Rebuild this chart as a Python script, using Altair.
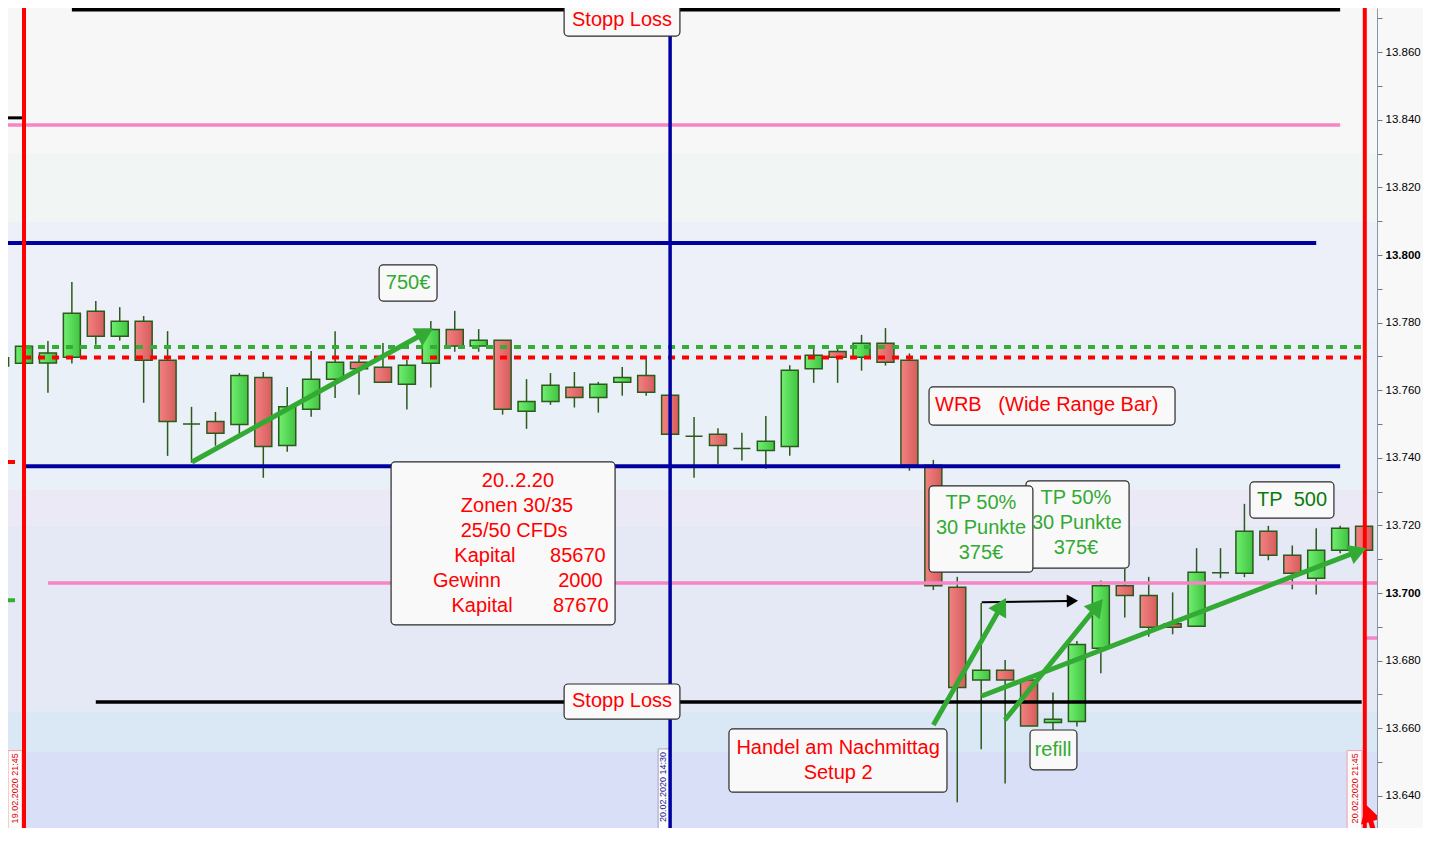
import math
import altair as alt
import pandas as pd

# ---------------- data ----------------
idx = list(range(58))
opens = [13769.6, 13768.0, 13768.1, 13769.8, 13783.4, 13776.0, 13780.4, 13768.9, 13750.0, 13750.8,
         13749.9, 13763.8, 13743.7, 13754.4, 13763.3, 13768.3, 13766.8, 13761.8, 13768.0, 13778.0,
         13773.1, 13774.8, 13753.8, 13756.7, 13760.9, 13757.9, 13762.4, 13764.4, 13758.5, 13746.4,
         13747.0, 13742.8, 13742.2, 13743.4, 13766.4, 13771.5, 13769.8, 13773.9, 13768.9, 13737.8,
         13701.7, 13674.3, 13677.2, 13674.3, 13661.7, 13662.0, 13683.7, 13702.2, 13699.3, 13690.9,
         13690.2, 13706.0, 13705.9, 13718.3, 13711.2, 13704.4, 13712.7, 13719.8]
highs = [13770.4, 13773.4, 13774.6, 13792.0, 13786.4, 13784.6, 13782.0, 13777.5, 13755.1, 13753.6,
         13765.1, 13765.4, 13761.0, 13771.6, 13777.5, 13770.4, 13774.0, 13769.0, 13780.5, 13783.5,
         13778.1, 13774.8, 13763.3, 13765.1, 13765.4, 13762.5, 13766.9, 13769.3, 13758.5, 13752.1,
         13748.8, 13747.4, 13752.4, 13767.4, 13772.2, 13772.2, 13776.4, 13778.4, 13770.9, 13739.4,
         13704.8, 13697.1, 13680.2, 13674.3, 13670.6, 13685.8, 13703.7, 13707.1, 13704.8, 13700.2,
         13713.3, 13713.3, 13726.4, 13719.9, 13714.1, 13719.2, 13719.9, 13719.8]
lows = [13764.2, 13767.8, 13759.3, 13767.9, 13773.5, 13774.7, 13756.3, 13740.6, 13738.6, 13743.6,
        13746.8, 13734.1, 13741.8, 13752.2, 13757.7, 13758.7, 13762.4, 13754.3, 13760.8, 13771.4,
        13771.4, 13752.8, 13748.6, 13755.7, 13754.9, 13753.4, 13758.4, 13758.4, 13747.0, 13734.1,
        13738.1, 13739.2, 13736.8, 13740.6, 13762.2, 13762.2, 13765.8, 13767.3, 13736.2, 13700.9,
        13638.1, 13653.8, 13643.7, 13660.7, 13659.0, 13660.5, 13676.3, 13692.8, 13687.1, 13687.8,
        13690.2, 13704.4, 13704.7, 13709.7, 13701.1, 13699.6, 13711.8, 13712.7]
closes = [13767.2, 13773.0, 13771.0, 13782.8, 13776.0, 13780.4, 13768.9, 13750.8, 13750.0, 13747.3,
          13764.4, 13743.4, 13755.1, 13763.3, 13768.3, 13766.4, 13762.4, 13767.4, 13778.0, 13773.1,
          13774.8, 13754.4, 13756.7, 13761.5, 13757.9, 13761.8, 13763.8, 13759.4, 13747.0, 13746.4,
          13743.7, 13742.8, 13744.9, 13765.9, 13770.4, 13769.8, 13773.9, 13768.3, 13737.8, 13702.2,
          13672.1, 13677.2, 13674.3, 13660.7, 13662.7, 13684.8, 13702.2, 13699.3, 13689.9, 13689.9,
          13706.2, 13706.0, 13718.3, 13711.2, 13705.9, 13712.7, 13719.2, 13712.7]

# background bands (price from, price to, colour)
band_lo = [13830.2, 13809.8, 13774.9, 13730.5, 13720.1, 13664.8, 13653.0, 13600.0]
band_hi = [13900.0, 13830.2, 13809.8, 13774.9, 13730.5, 13720.1, 13664.8, 13653.0]
band_col = ["#f7f7f7", "#f1f6f5", "#eef0f9", "#e9f0f8", "#ece9f6", "#e5e9f6", "#dae8f6", "#d9dff6"]

X_MIN, X_MAX = 0.331, 57.54
Y_MIN, Y_MAX = 13630.5, 13873.1
W, H = 1369, 820

# horizontal levels: x from, x to, price, colour, width
solid_x1 = [3.0, X_MIN, X_MIN, X_MIN, 1.0, 2.0, 57.04, 4.0, X_MIN]
solid_x2 = [56.0, 0.92, 56.0, 55.0, 56.0, X_MAX, X_MAX, 56.9, 0.42]
solid_y = [13872.6, 13840.6, 13838.5, 13803.6, 13737.5, 13703.0, 13686.7, 13667.8, 13634.9]
solid_c = ["#000000", "#000000", "#f585c5", "#0000a0", "#0000a0", "#f585c5", "#f585c5", "#000000", "#f585c5"]
solid_w = [3.5, 3, 3.5, 4, 4, 3.5, 3.5, 3.5, 3.5]

dash_x1 = [1.0, 1.0, X_MIN, X_MIN]
dash_x2 = [56.9, 56.9, 0.92, 0.92]
dash_y = [13772.8, 13769.7, 13738.8, 13697.9]
dash_c = ["#36ac36", "#ff0000", "#ff0000", "#36ac36"]

# vertical lines
vline_x = [1.0, 28.0, 57.03]
vline_c = ["#ff0000", "#0000a0", "#ff0000"]
vline_w = [4, 3.5, 4]

GREEN = "#33aa33"
# arrows: start x, start price, tip x, tip price, colour, width, head size
arr_x1 = [8.02, 39.0, 41.99, 41.02, 41.02, 57.55]
arr_y1 = [13738.8, 13661.0, 13662.45, 13669.55, 13697.3, 13626.0]
arr_x2 = [17.97, 41.97, 46.0, 56.97, 44.96, 57.11]
arr_y2 = [13777.8, 13697.7, 13697.5, 13712.95, 13697.7, 13636.5]
arr_c = [GREEN, GREEN, GREEN, GREEN, "#000000", "#ff0000"]
arr_w = [5, 5, 5, 5, 2, 5]
arr_s = [420, 420, 420, 420, 170, 420]

# annotation boxes
box_x1 = [23.57, 15.84, 16.34, 38.82, 42.87, 38.82, 52.23, 23.57, 30.46, 43.04]
box_x2 = [28.41, 18.26, 25.70, 49.10, 47.18, 43.16, 55.74, 28.41, 39.57, 45.00]
box_y1 = [13874.5, 13797.1, 13738.8, 13761.0, 13733.2, 13731.7, 13732.9, 13673.1, 13659.8, 13659.5]
box_y2 = [13864.8, 13786.4, 13690.6, 13749.7, 13707.4, 13706.2, 13722.2, 13662.7, 13641.1, 13647.7]

NB = "\u00a0"
RED = "#ff0000"
DKGREEN = "#0c7a0c"
# centred texts
ct_text = ["Stopp Loss", "750€", "20..2.20", "Zonen 30/35", "25/50 CFDs", "Kapital", "Gewinn", "Kapital",
           "TP 50%", "30 Punkte", "375€", "TP 50%", "30 Punkte", "375€", "TP" + NB + NB + "500",
           "Stopp Loss", "Handel am Nachmittag", "Setup 2", "refill"]
ct_x = [25.99, 17.05, 21.64, 21.60, 21.48, 20.26, 19.51, 20.14,
        40.99, 40.99, 40.99, 44.96, 45.0, 44.96, 53.99,
        25.99, 35.02, 35.02, 44.0]
ct_y = [13869.5, 13791.7, 13733.2, 13725.8, 13718.4, 13711.0, 13703.6, 13696.2,
        13726.7, 13719.3, 13711.9, 13728.1, 13720.7, 13713.3, 13727.5,
        13668.1, 13654.2, 13646.8, 13653.6]
ct_c = [RED, GREEN, RED, RED, RED, RED, RED, RED,
        GREEN, GREEN, GREEN, GREEN, GREEN, GREEN, DKGREEN,
        RED, RED, RED, GREEN]
# right aligned numbers
rt_text = ["85670", "2000", "87670"]
rt_x = [25.31, 25.18, 25.43]
rt_y = [13711.0, 13703.6, 13696.2]
# left aligned text
lt_text = ["WRB" + NB * 3 + "(Wide Range Bar)"]
lt_x = [39.07]
lt_y = [13755.6]

# date labels at the bottom
dl_text = ["19.02.2020 21:45", "20.02.2020 14:30", "20.02.2020 21:45"]
dl_x = [0.62, 27.72, 56.6]
dl_y = [13652.6, 13653.0, 13652.6]
dl_c = ["#e00000", "#1a1a90", "#e00000"]
dl_bx1 = [X_MIN, 27.5, 56.29]
dl_bx2 = [0.92, 28.0, 56.91]
dl_by1 = [13653.4, 13653.9, 13653.4]
dl_border = ["#f0a0a8", "#a0a4c0", "#f0a0a8"]

# ---------------- tables ----------------
xs = alt.Scale(domain=[X_MIN, X_MAX], nice=False, zero=False, padding=0)
ys = alt.Scale(domain=[Y_MIN, Y_MAX], nice=False, zero=False, padding=0)
yaxis = alt.Axis(
    orient="right",
    values=list(range(13640, 13871, 10)),
    labelExpr="datum.value % 20 === 0 ? replace(format(datum.value, ',.0f'), ',', '.') : ''",
    labelFontWeight={"condition": {"test": "datum.value % 100 === 0", "value": "bold"}, "value": "normal"},
    labelFont="Liberation Sans", labelFontSize=11.5, labelColor="#000000",
    labelOverlap=False, labelPadding=3,
    tickSize=5, tickColor="#6a7a8a", domainColor="#8898a8", domainWidth=1,
    grid=False, title=None,
)


def X(f):
    return alt.X(f, type="quantitative", scale=xs, axis=None)


def Y(f):
    return alt.Y(f, type="quantitative", scale=ys, axis=yaxis)


candles = pd.DataFrame({"i": idx, "o": opens, "h": highs, "l": lows, "c": closes})
candles["dir"] = ["up" if c >= o else "down" for o, c in zip(opens, closes)]

bands = pd.DataFrame({"lo": band_lo, "hi": band_hi, "col": band_col})
solid = pd.DataFrame({"x1": solid_x1, "x2": solid_x2, "y": solid_y, "col": solid_c, "w": solid_w})
dashed = pd.DataFrame({"x1": dash_x1, "x2": dash_x2, "y": dash_y, "col": dash_c})
vlines = pd.DataFrame({"x": vline_x, "col": vline_c, "w": vline_w})

PX_X = W / (X_MAX - X_MIN)
PX_Y = H / (Y_MAX - Y_MIN)
shaft_rows, head_rows = [], []
for k in range(len(arr_x1)):
    dxp = (arr_x2[k] - arr_x1[k]) * PX_X
    dyp = -(arr_y2[k] - arr_y1[k]) * PX_Y
    L = math.hypot(dxp, dyp)
    ux, uy = dxp / L, dyp / L
    hb = math.sqrt(arr_s[k]) / 2.4
    hx = arr_x2[k] - ux * hb / PX_X
    hy = arr_y2[k] + uy * hb / PX_Y
    ex = arr_x2[k] - ux * (hb + 2) / PX_X
    ey = arr_y2[k] + uy * (hb + 2) / PX_Y
    ang = math.degrees(math.atan2(ux, -uy)) % 360
    shaft_rows.append({"id": k, "o": 0, "x": arr_x1[k], "y": arr_y1[k], "col": arr_c[k], "w": arr_w[k]})
    shaft_rows.append({"id": k, "o": 1, "x": ex, "y": ey, "col": arr_c[k], "w": arr_w[k]})
    head_rows.append({"x": hx, "y": hy, "ang": ang, "col": arr_c[k], "s": arr_s[k]})
shafts = pd.DataFrame(shaft_rows)
heads = pd.DataFrame(head_rows)

boxes = pd.DataFrame({"x1": box_x1, "x2": box_x2, "y1": box_y1, "y2": box_y2})
ctexts = pd.DataFrame({"x": ct_x, "y": ct_y, "t": ct_text, "col": ct_c})
rtexts = pd.DataFrame({"x": rt_x, "y": rt_y, "t": rt_text})
ltexts = pd.DataFrame({"x": lt_x, "y": lt_y, "t": lt_text})
dboxes = pd.DataFrame({"x1": dl_bx1, "x2": dl_bx2, "y1": dl_by1, "y2": [Y_MIN - 2] * 3, "bc": dl_border})
dtexts = pd.DataFrame({"x": dl_x, "y": dl_y, "t": dl_text, "col": dl_c})

# ---------------- layers ----------------
band_layer = alt.Chart(bands).mark_rect(clip=True).encode(
    x=alt.value(0), x2=alt.value(W), y=Y("lo"), y2=alt.Y2("hi"),
    color=alt.Color("col:N", scale=None))

wick_layer = alt.Chart(candles).mark_rule(color="#2b5a1c", strokeWidth=1.5, clip=True).encode(
    x=X("i"), y=Y("l"), y2=alt.Y2("h"))

green_grad = alt.LinearGradient(gradient="linear", x1=0, x2=1, y1=0, y2=0,
                                stops=[alt.GradientStop(color="#70ee70", offset=0),
                                       alt.GradientStop(color="#40c440", offset=1)])
red_grad = alt.LinearGradient(gradient="linear", x1=0, x2=1, y1=0, y2=0,
                              stops=[alt.GradientStop(color="#f38282", offset=0),
                                     alt.GradientStop(color="#d65c5c", offset=1)])
up_layer = alt.Chart(candles).transform_filter("datum.dir === 'up'").mark_bar(
    size=17, fill=green_grad, stroke="#2b5a1c", strokeWidth=1.5, clip=True).encode(
    x=X("i"), y=Y("o"), y2=alt.Y2("c"))
down_layer = alt.Chart(candles).transform_filter("datum.dir === 'down'").mark_bar(
    size=17, fill=red_grad, stroke="#2b5a1c", strokeWidth=1.5, clip=True).encode(
    x=X("i"), y=Y("o"), y2=alt.Y2("c"))

solid_layer = alt.Chart(solid).mark_rule(clip=True, strokeCap="butt").encode(
    x=X("x1"), x2=alt.X2("x2"), y=Y("y"),
    color=alt.Color("col:N", scale=None), strokeWidth=alt.StrokeWidth("w:Q", scale=None))
dash_layer = alt.Chart(dashed).mark_rule(clip=True, strokeWidth=4, strokeDash=[7, 7], strokeCap="butt").encode(
    x=X("x1"), x2=alt.X2("x2"), y=Y("y"), color=alt.Color("col:N", scale=None))

dbox_layer = alt.Chart(dboxes).mark_rect(fill="#fbfbfb", strokeWidth=1, clip=True).encode(
    x=X("x1"), x2=alt.X2("x2"), y=Y("y1"), y2=alt.Y2("y2"), stroke=alt.Stroke("bc:N", scale=None))
dtext_layer = alt.Chart(dtexts).mark_text(
    angle=270, align="right", baseline="middle", font="Liberation Sans", fontSize=9, clip=True).encode(
    x=X("x"), y=Y("y"), text="t:N", color=alt.Color("col:N", scale=None))

vline_layer = alt.Chart(vlines).mark_rule(clip=True).encode(
    x=X("x"), color=alt.Color("col:N", scale=None), strokeWidth=alt.StrokeWidth("w:Q", scale=None))

shaft_layer = alt.Chart(shafts).mark_line(clip=True, strokeCap="butt").encode(
    x=X("x"), y=Y("y"), detail="id:N", order="o:Q",
    color=alt.Color("col:N", scale=None), strokeWidth=alt.StrokeWidth("w:Q", scale=None))
head_layer = alt.Chart(heads).mark_point(shape="triangle", filled=True, opacity=1, clip=True).encode(
    x=X("x"), y=Y("y"), angle=alt.Angle("ang:Q", scale=None),
    color=alt.Color("col:N", scale=None), size=alt.Size("s:Q", scale=None))

box_layer = alt.Chart(boxes).mark_rect(fill="#f9f9f9", stroke="#2a2a2a", strokeWidth=1.2, cornerRadius=4).encode(
    x=X("x1"), x2=alt.X2("x2"), y=Y("y1"), y2=alt.Y2("y2"))
ctext_layer = alt.Chart(ctexts).mark_text(font="Liberation Sans", fontSize=20, align="center", baseline="middle").encode(
    x=X("x"), y=Y("y"), text="t:N", color=alt.Color("col:N", scale=None))
rtext_layer = alt.Chart(rtexts).mark_text(font="Liberation Sans", fontSize=20, align="right", baseline="middle",
                                          color=RED).encode(x=X("x"), y=Y("y"), text="t:N")
ltext_layer = alt.Chart(ltexts).mark_text(font="Liberation Sans", fontSize=20, align="left", baseline="middle",
                                          color=RED).encode(x=X("x"), y=Y("y"), text="t:N")

chart = alt.layer(
    band_layer, wick_layer, up_layer, down_layer, solid_layer, dash_layer,
    dbox_layer, dtext_layer, vline_layer, shaft_layer, head_layer,
    box_layer, ctext_layer, rtext_layer, ltext_layer,
).properties(
    width=W, height=H,
    padding={"left": 0, "top": 0, "right": 46, "bottom": 0},
    autosize=alt.AutoSizeParams(type="none"),
    background="#f8f8f8",
).configure_view(stroke=None)

chart.save("out.html", embed_options={"renderer": "svg", "actions": False})
